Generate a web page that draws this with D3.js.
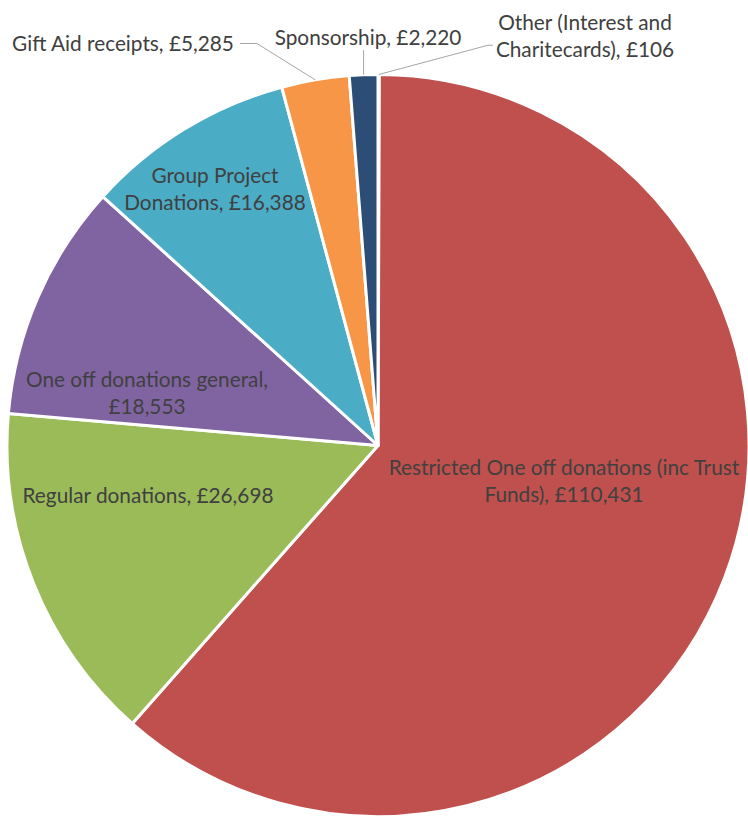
<!DOCTYPE html>
<html>
<head>
<meta charset="utf-8">
<script src="https://cdn.jsdelivr.net/npm/d3@7"></script>
<style>
  html, body { margin: 0; padding: 0; background: #ffffff; }
  svg { display: block; }
</style>
</head>
<body>
<svg id="chart" width="748" height="818"></svg>
<script>
// ---- data ----
const categories = [
  "Other (Interest and Charitecards)",
  "Restricted One off donations (inc Trust Funds)",
  "Regular donations",
  "One off donations general",
  "Group Project Donations",
  "Gift Aid receipts",
  "Sponsorship"
];
const values = [106, 110431, 26698, 18553, 16388, 5285, 2220];
const labelLines = [
  ["Other (Interest and", "Charitecards), £106"],
  ["Restricted One off donations (inc Trust", "Funds), £110,431"],
  ["Regular donations, £26,698"],
  ["One off donations general,", "£18,553"],
  ["Group Project", "Donations, £16,388"],
  ["Gift Aid receipts, £5,285"],
  ["Sponsorship, £2,220"]
];
const colors = ["#4F81BD", "#C0504D", "#9BBB59", "#8064A2", "#4BACC6", "#F79646", "#2C4D75"];

// ---- layout ----
const W = 748, H = 818;
const cx = 378, cy = 445.5, R = 371;
const fontFamily = "Lato, 'Open Sans', sans-serif";
const lineH = 26.5;
// label anchor (centre x, first baseline) relative to pie centre
const labelAnchor = [
  [207, -415.5],
  [186, 29.5],
  [-230, 57.5],
  [-231, -58.5],
  [-163, -262.5],
  [-255, -394.5],
  [-10, -400.5]
];
// leader type: null = inside label
const leader = [ "left", null, null, null, null, "right", "below" ];

const svg = d3.select("#chart");
const g = svg.append("g").attr("transform", `translate(${cx},${cy})`);

const pie = d3.pie().sort(null).value(d => d).startAngle(0).endAngle(2 * Math.PI);
const arcs = pie(values);
const arc = d3.arc().innerRadius(0).outerRadius(R);
const edgeArc = d3.arc().innerRadius(R).outerRadius(R);

g.selectAll("path.slice")
  .data(arcs)
  .join("path")
  .attr("class", "slice")
  .attr("d", arc)
  .attr("fill", (d, i) => colors[i])
  .attr("stroke", "#ffffff")
  .attr("stroke-width", 3)
  .attr("stroke-linejoin", "round");

// font size fit: measure reference string
const probe = svg.append("text").attr("font-family", fontFamily).attr("font-size", 20).text(labelLines[5][0]);
const pw = probe.node().getComputedTextLength();
probe.remove();
const fontSize = 20 * 222 / pw;

const labels = g.selectAll("text.lbl")
  .data(arcs)
  .join("text")
  .attr("class", "lbl")
  .attr("font-family", fontFamily)
  .attr("font-size", fontSize)
  .attr("fill", "#404040")
  .attr("text-anchor", "middle")
  .attr("x", (d, i) => labelAnchor[i][0])
  .attr("y", (d, i) => labelAnchor[i][1]);

labels.each(function(d, i) {
  const t = d3.select(this);
  labelLines[i].forEach((line, k) => {
    t.append("tspan")
      .attr("x", labelAnchor[i][0])
      .attr("y", labelAnchor[i][1] + k * lineH)
      .text(line);
  });
});

// leader lines
labels.each(function(d, i) {
  if (!leader[i]) return;
  const bb = this.getBBox();
  const [sx, sy] = edgeArc.centroid(d);
  let pts;
  if (leader[i] === "left") {
    const ey = bb.y + bb.height - lineH * 0.5 - 2;
    const ex = bb.x - 3;
    pts = [[sx, sy], [ex - 5, ey], [ex, ey]];
  } else if (leader[i] === "right") {
    const ey = bb.y + bb.height * 0.5 + 1;
    const ex = bb.x + bb.width + 6;
    pts = [[sx, sy], [ex + 17, ey], [ex, ey]];
  } else {
    const ey = bb.y + bb.height + 1;
    pts = [[sx, sy], [sx, ey]];
  }
  g.append("path")
    .attr("d", d3.line()(pts))
    .attr("fill", "none")
    .attr("stroke", "#A6A6A6")
    .attr("stroke-width", 1);
});
</script>
</body>
</html>
